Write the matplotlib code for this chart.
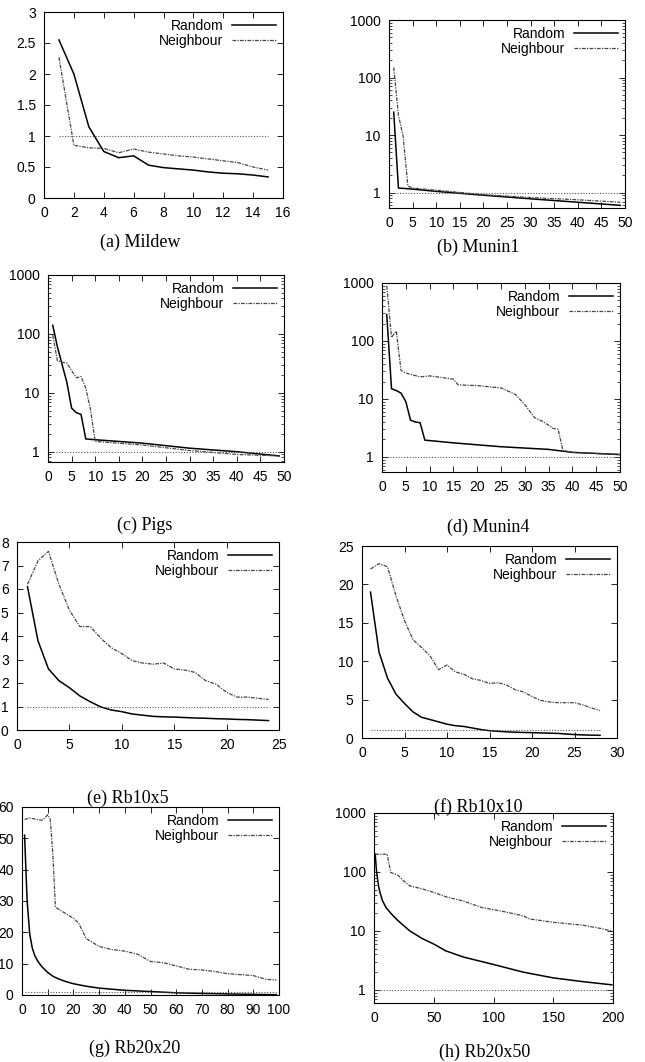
import matplotlib
matplotlib.use("Agg")
import matplotlib.pyplot as plt
from matplotlib.ticker import FixedLocator, NullFormatter, LogLocator

W, H = 645, 1062

# (a) Mildew
mildew_x = [1, 2, 3, 4, 5, 6, 7, 8, 9, 10, 11, 12, 13, 14, 15]
mildew_random = [2.55, 2.0, 1.15, 0.75, 0.65, 0.68, 0.53, 0.49, 0.47, 0.45, 0.42, 0.40, 0.39, 0.37, 0.34]
mildew_neigh = [2.27, 0.85, 0.81, 0.80, 0.73, 0.79, 0.74, 0.71, 0.68, 0.66, 0.63, 0.60, 0.57, 0.50, 0.45]

# (b) Munin1
munin1_rx = [1, 2, 5, 10, 20, 30, 40, 49]
munin1_random = [25, 1.2, 1.15, 1.05, 0.9, 0.78, 0.68, 0.6]
munin1_nx = [1, 2, 3, 4, 5, 10, 20, 30, 40, 49]
munin1_neigh = [150, 22, 9.5, 1.3, 1.2, 1.1, 0.92, 0.82, 0.75, 0.68]

# (c) Pigs
pigs_rx = [1, 2, 3, 4, 5, 6, 7, 8, 10, 20, 30, 40, 49]
pigs_random = [140, 60, 30, 15, 5.5, 4.6, 4.3, 1.65, 1.6, 1.4, 1.15, 1.0, 0.85]
pigs_nx = [1, 2, 3, 4, 5, 6, 7, 8, 9, 10, 20, 30, 40, 49]
pigs_neigh = [95, 35, 33, 32, 24, 18, 19, 12, 5.2, 1.5, 1.3, 1.05, 0.9, 0.85]

# (d) Munin4
munin4_rx = [1, 2, 3, 4, 5, 6, 7, 8, 9, 15, 25, 35, 40, 50]
munin4_random = [285, 15, 14, 12.6, 9, 4.3, 4.0, 3.9, 1.95, 1.75, 1.5, 1.35, 1.2, 1.1]
munin4_nx = [1, 2, 3, 4, 5, 8, 10, 15, 16, 20, 25, 28, 30, 32, 34, 36, 37, 38, 40, 50]
munin4_neigh = [890, 115, 148, 31, 28, 24, 25, 22, 17.5, 17, 15.5, 12, 8, 4.8, 4.0, 3.1, 3.0, 1.3, 1.2, 1.1]

# (e) Rb10x5
rb10x5_x = list(range(1, 25))
rb10x5_random = [6.1, 3.8, 2.6, 2.1, 1.8, 1.45, 1.2, 0.98, 0.85, 0.78, 0.68, 0.63,
                 0.58, 0.56, 0.55, 0.53, 0.51, 0.5, 0.48, 0.47, 0.45, 0.44, 0.42, 0.4]
rb10x5_neigh = [6.2, 7.2, 7.6, 6.2, 5.1, 4.4, 4.4, 3.9, 3.5, 3.25, 2.95, 2.85,
                2.8, 2.85, 2.6, 2.55, 2.45, 2.1, 1.95, 1.6, 1.4, 1.4, 1.35, 1.3]

# (f) Rb10x10
rb10x10_x = list(range(1, 29))
rb10x10_random = [19, 11.2, 7.8, 5.7, 4.5, 3.4, 2.7, 2.4, 2.1, 1.8, 1.6, 1.5, 1.3, 1.1,
                  0.95, 0.88, 0.8, 0.76, 0.72, 0.7, 0.66, 0.63, 0.6, 0.52, 0.45, 0.4, 0.37, 0.35]
rb10x10_neigh = [22, 22.7, 22.3, 18.5, 15.3, 12.8, 11.8, 10.7, 8.9, 9.5, 8.6, 8.3, 7.7, 7.5,
                 7.1, 7.2, 6.9, 6.3, 6.0, 5.4, 4.9, 4.7, 4.6, 4.6, 4.6, 4.3, 3.9, 3.6]

# (g) Rb20x20
rb20x20_rx = [1, 2, 3, 4, 5, 6, 7, 8, 10, 12, 14, 17, 20, 25, 30, 40, 50, 60, 70, 80, 90, 99]
rb20x20_random = [51, 30, 19.5, 15, 12.5, 11, 9.8, 8.8, 7.2, 6.0, 5.2, 4.3, 3.6, 2.8, 2.2,
                  1.5, 1.1, 0.7, 0.5, 0.35, 0.2, 0.1]
rb20x20_nx = [1, 3, 6, 8, 10, 11, 12, 13, 15, 20, 22, 25, 30, 35, 40, 45, 50, 55, 60,
              65, 70, 75, 80, 85, 90, 95, 99]
rb20x20_neigh = [56, 56.5, 56, 55.8, 57.5, 56, 45, 28, 27, 24.5, 23, 18, 15.5, 14.5, 14,
                 13, 10.7, 10.3, 9.3, 8.2, 8, 7.5, 6.8, 6.5, 6.2, 5, 4.8]

# (h) Rb20x50
rb20x50_rx = [1, 2, 3, 4, 5, 7, 10, 15, 20, 30, 40, 50, 60, 75, 100, 125, 150, 175, 199]
rb20x50_random = [200, 110, 75, 55, 45, 33, 25, 19, 15, 10, 7.5, 6.0, 4.6, 3.6, 2.7, 2.0,
                  1.6, 1.38, 1.22]
rb20x50_nx = [1, 11, 14, 20, 25, 30, 40, 50, 60, 75, 90, 100, 110, 125, 130, 150, 175, 190, 199]
rb20x50_neigh = [200, 200, 98, 88, 70, 58, 52, 45, 38, 32, 25, 23, 21, 18, 16, 14, 12.5, 11, 10]

plt.rcParams['font.family'] = ['Liberation Sans', 'DejaVu Sans']

fig = plt.figure(figsize=(W / 100, H / 100), dpi=100)


def panel(box, caption, cap_xy, rx, ry, nx, ny, xlim, xticks, ylim, yticks, log=False):
    left, top, right, bottom = box
    ax = fig.add_axes([left / W, 1 - bottom / H, (right - left) / W, (bottom - top) / H])
    ax.plot(rx, ry, color='black', lw=1.1, label='Random')
    ax.plot(nx, ny, color='#444444', lw=0.9, ls=(0, (3, 1, 1, 1)), label='Neighbour')
    ax.plot([rx[0], rx[-1]], [1, 1], color='#555555', lw=0.8, ls=(0, (1, 1.5)))
    if log:
        ax.set_yscale('log')
        ax.yaxis.set_minor_locator(LogLocator(subs=range(2, 10)))
        ax.yaxis.set_minor_formatter(NullFormatter())
    ax.set_xlim(*xlim)
    ax.set_ylim(*ylim)
    ax.xaxis.set_major_locator(FixedLocator(xticks))
    ax.yaxis.set_major_locator(FixedLocator(yticks))
    ax.set_xticklabels([f"{t:g}" for t in xticks])
    ax.set_yticklabels([f"{t:g}" for t in yticks])
    ax.tick_params(direction='in', top=True, right=True, labelsize=10, length=4, width=0.6, pad=6)
    ax.tick_params(which='minor', direction='in', top=True, right=True, length=2, width=0.5)
    for s in ax.spines.values():
        s.set_linewidth(0.8)
    ax.legend(loc='upper right', frameon=False, markerfirst=False, fontsize=10,
              handlelength=3.2, handletextpad=0.6, labelspacing=0.1, borderpad=0.3,
              borderaxespad=0.2)
    fig.text(cap_xy[0] / W, 1 - cap_xy[1] / H, caption, ha='center', va='center',
             family=['Liberation Serif', 'DejaVu Serif'], fontsize=13)
    return ax


panel((44, 12, 283, 198), '(a) Mildew', (140, 242), mildew_x, mildew_random, mildew_x, mildew_neigh,
      (0, 16), [0, 2, 4, 6, 8, 10, 12, 14, 16], (0, 3), [0, 0.5, 1, 1.5, 2, 2.5, 3])
panel((389, 20, 625, 208), '(b) Munin1', (478, 247), munin1_rx, munin1_random, munin1_nx, munin1_neigh,
      (0, 50), list(range(0, 51, 5)), (0.54, 1000), [1, 10, 100, 1000], log=True)
panel((48, 275, 284, 462), '(c) Pigs', (145, 525), pigs_rx, pigs_random, pigs_nx, pigs_neigh,
      (0, 50), list(range(0, 51, 5)), (0.67, 1000), [1, 10, 100, 1000], log=True)
panel((382, 283, 620, 472), '(d) Munin4', (488, 527), munin4_rx, munin4_random, munin4_nx, munin4_neigh,
      (0, 50), list(range(0, 51, 5)), (0.55, 1000), [1, 10, 100, 1000], log=True)
panel((17, 542, 279, 730), '(e) Rb10x5', (128, 798), rb10x5_x, rb10x5_random, rb10x5_x, rb10x5_neigh,
      (0, 25), [0, 5, 10, 15, 20, 25], (0, 8), list(range(0, 9)))
panel((362, 546, 617, 738), '(f) Rb10x10', (478, 807), rb10x10_x, rb10x10_random, rb10x10_x, rb10x10_neigh,
      (0, 30), [0, 5, 10, 15, 20, 25, 30], (0, 25), [0, 5, 10, 15, 20, 25])
panel((22, 807, 279, 995), '(g) Rb20x20', (135, 1048), rb20x20_rx, rb20x20_random, rb20x20_nx, rb20x20_neigh,
      (0, 100), list(range(0, 101, 10)), (0, 60), [0, 10, 20, 30, 40, 50, 60])
panel((374, 813, 613, 1003), '(h) Rb20x50', (485, 1052), rb20x50_rx, rb20x50_random, rb20x50_nx, rb20x50_neigh,
      (0, 200), [0, 50, 100, 150, 200], (0.6, 1000), [1, 10, 100, 1000], log=True)

fig.savefig("out.png", dpi=100)
